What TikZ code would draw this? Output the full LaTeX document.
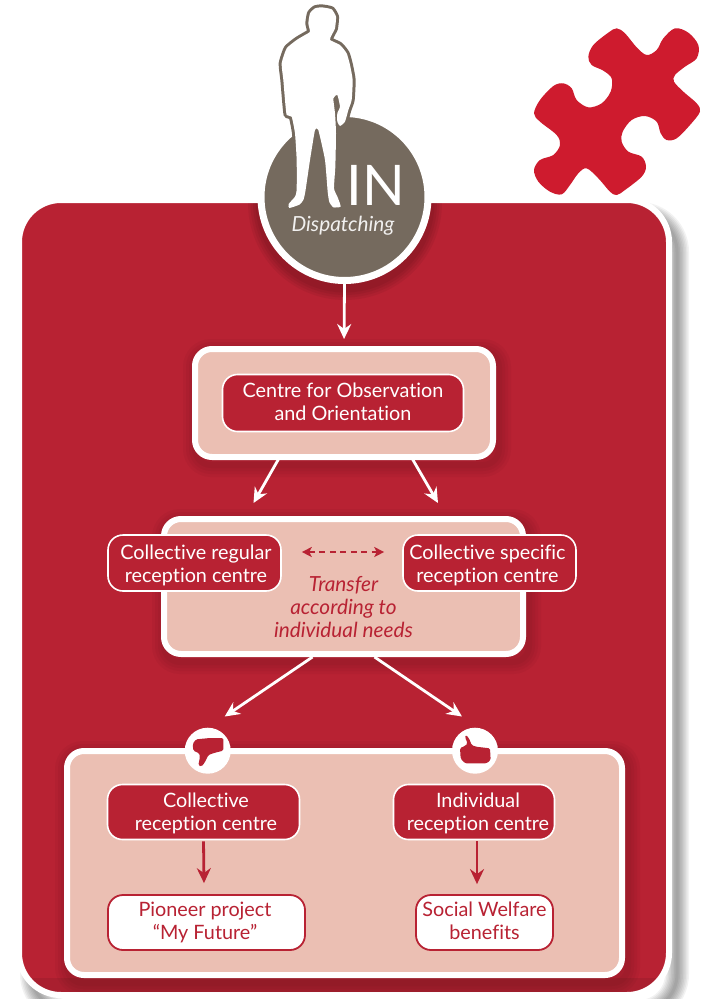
\documentclass[tikz,border=0pt]{standalone}
\usepackage{fontspec}
\setmainfont{Lato}[Ligatures=NoCommon]
\usetikzlibrary{arrows.meta,calc}
\definecolor{mainred}{HTML}{B82233}
\definecolor{pinkbg}{HTML}{EBBFB3}
\definecolor{brownc}{HTML}{756A5E}
\definecolor{puzzlered}{HTML}{CE1B2E}
\newcommand{\softpanel}[4]{%
  \foreach \w in {24,18,12,6}
    \draw[black,opacity=0.03,line width=\w pt,rounded corners=16pt] (#1+3,#2+5) rectangle (#3+3,#4+5);
}
% two text lines with fixed height above the first and depth below the last;
% the optional argument moves both lines sideways by half its value
\newcommand{\twolines}[4][0]{\hspace*{#1pt}\rule{0pt}{#2pt}#3\\\hspace*{#1pt}#4\rule[-3pt]{0pt}{3pt}}
\tikzset{
  panel/.style={draw=white,line width=6pt,fill=pinkbg,rounded corners=17pt,inner sep=0pt},
  redbox/.style={draw=white,line width=1.6pt,fill=mainred,text=white,rounded corners=15pt,inner sep=0pt,align=center,font=\fontsize{19.8}{23}\selectfont},
  whitebox/.style={draw=mainred,line width=1.8pt,fill=white,text=mainred,rounded corners=15pt,inner sep=0pt,align=center,font=\fontsize{19.8}{23}\selectfont},
  whitearrow/.style={draw=white,line width=2.8pt,-{Stealth[length=15pt,width=14pt,inset=5pt]}},
  redarrow/.style={draw=mainred,line width=2.8pt,-{Stealth[length=15pt,width=14pt,inset=5pt]}},
  transferarrow/.style={draw=mainred,line width=1.7pt,dash pattern=on 6pt off 4.5pt,{Stealth[length=10pt,width=10pt,inset=2.5pt]}-{Stealth[length=10pt,width=10pt,inset=2.5pt]}},
  thumbdisc/.style={circle,fill=white,minimum size=46pt,inner sep=0pt},
}
\begin{document}
\begin{tikzpicture}[x=1pt,y=-1pt]
\useasboundingbox (0,0) rectangle (705,999);
\fill[white] (0,0) rectangle (705,999);
% main panel shadow
\foreach \w in {24,21,18,15,12,9,6,3}
  \draw[black,opacity=0.05,line width=\w pt,rounded corners=38pt] (32,214) rectangle (677,1012);
% main panel
\draw[white,line width=6pt,fill=mainred,rounded corners=42pt] (19,200) rectangle (669,995);
\begin{scope}
\clip[rounded corners=40pt] (22,203) rectangle (666,992);
\fill[black,opacity=0.08] (22,978) rectangle (666,992);
\softpanel{64}{748}{625}{978}
\softpanel{192}{346}{496}{460}
\softpanel{161}{516}{526}{657}
\foreach \w in {20,15,10,5}
  \fill[black,opacity=0.05] (345,203) circle (87pt+\w pt*0.5);
\end{scope}
% puzzle piece
\begin{scope}[shift={(520pt,-10pt)},x=0.33333pt,y=-0.33333pt]
\fill[puzzlered] plot[smooth cycle,tension=0.55] coordinates {(290,55)(315,70)(350,112)(380,135)(410,120)(430,85)(465,55)(505,68)(535,105)(530,145)(495,170)(465,195)(462,215)(490,245)(530,280)(540,305)(510,345)(470,385)(440,390)(422,370)(410,335)(375,318)(335,330)(308,365)(305,395)(325,425)(365,440)(378,470)(365,500)(315,540)(290,555)(270,545)(235,505)(200,475)(175,490)(150,525)(125,553)(90,545)(55,515)(42,480)(60,450)(100,435)(120,405)(110,375)(60,335)(42,310)(60,270)(100,228)(130,220)(155,235)(170,270)(205,292)(245,280)(272,245)(275,205)(250,182)(215,165)(205,140)(220,105)(265,68)};
\end{scope}
% dispatch circle
\node[circle,fill=brownc,draw=white,line width=7pt,minimum size=167pt,inner sep=0pt] (disp) at (344.5,197) {};
% man
\begin{scope}[shift={(250pt,0pt)},x=0.33333pt,y=-0.33333pt]
\draw[brownc,line width=6pt,line join=round,postaction={fill=white}] plot[smooth cycle,tension=0.3] coordinates {(215,22)(245,28)(258,50)(255,85)(245,105)(240,120)(270,135)(290,160)(300,195)(308,240)(305,300)(295,330)(285,365)(270,378)(262,365)(262,340)(270,320)(262,285)(250,295)(255,340)(258,400)(256,500)(252,565)(263,592)(272,620)(250,622)(238,606)(233,575)(225,480)(205,390)(195,390)(180,480)(166,575)(160,600)(148,614)(118,624)(116,612)(135,590)(140,570)(140,480)(135,400)(125,350)(110,345)(105,300)(100,240)(95,190)(110,145)(140,120)(165,105)(180,95)(175,70)(180,40)(195,25)};
\end{scope}
\node[text=white,font=\fontsize{56}{56}\selectfont,inner sep=0pt] (intext) at (376,185) {IN};
\node[text=white!90!brownc,font=\fontsize{20.8}{24}\selectfont\itshape,inner sep=0pt] (dispt) at (343,225.5) {Dispatching};
% panels
\node[panel,minimum width=298pt,minimum height=108pt] (obspanel) at (344,403) {};
\node[redbox,minimum width=241pt,minimum height=57pt] (obs) at (343,403) {\twolines{15}{Centre for Observation}{and Orientation}};
\node[panel,minimum width=359pt,minimum height=135pt] (transpanel) at (343.5,586.5) {};
\node[redbox,minimum width=173pt,minimum height=56pt] (regular) at (194.5,563) {\twolines[3]{19.8}{Collective regular}{reception centre}};
\node[redbox,minimum width=173pt,minimum height=56pt] (specific) at (489.5,563) {\twolines[-4]{19.8}{Collective specific}{reception centre}};
\node[text=mainred,font=\fontsize{20.8}{23}\selectfont\itshape,align=center,inner sep=0pt] (transfer) at (343.5,607) {Transfer\\according to\\individual needs};
\node[panel,minimum width=555pt,minimum height=224pt] (endpanel) at (344.5,863) {};
\node[thumbdisc] (down) at (207.7,750.7) {};
\node[thumbdisc] (up) at (475,750.7) {};
\begin{scope}[shift={(190pt,-730pt)},x=0.33333pt,y=-0.33333pt]
\fill[mainred,rounded corners=1.5pt] (18,28)--(60,24)--(100,24)--(100,62)--(75,68)--(55,75)--(44,98)--(34,110)--(25,106)--(30,80)--(28,70)--(10,62)--(8,42)--cycle;
\end{scope}
\begin{scope}[shift={(455pt,-730pt)},x=0.33333pt,y=-0.33333pt]
\fill[mainred,rounded corners=1.5pt] (32,14)--(42,25)--(50,45)--(62,50)--(105,55)--(107,90)--(95,100)--(30,100)--(17,86)--(15,54)--(30,48)--(38,40)--(30,22)--cycle;
\end{scope}
\node[redbox,minimum width=192pt,minimum height=55pt] (coll) at (203.5,812) {\twolines[5]{16.8}{Collective}{reception centre}};
\node[redbox,minimum width=161pt,minimum height=55pt] (indiv) at (474,812) {\twolines[8]{16.8}{Individual}{reception centre}};
\node[whitebox,minimum width=197pt,minimum height=55pt] (pioneer) at (206.5,922.5) {\twolines[-3]{13.8}{Pioneer project}{“My Future”}};
\node[whitebox,minimum width=137pt,minimum height=55pt] (social) at (484.5,922.5) {\twolines{13.8}{Social Welfare}{benefits}};
% connectors
\draw[whitearrow,shorten >=7pt,shorten <=-3pt] (disp.south) -- ([xshift=0pt]obspanel.north);
\draw[whitearrow,shorten <=-2pt] ([xshift=-66pt]obspanel.south) -- ($(transpanel.north)+(-90pt,13pt)$);
\draw[whitearrow,shorten <=-2pt] ([xshift=69pt]obspanel.south) -- ($(transpanel.north)+(94.5pt,13pt)$);
\draw[whitearrow] ([xshift=-31pt]transpanel.south) -- ($(down.north)+(17pt,11pt)$);
\draw[whitearrow] ([xshift=31pt]transpanel.south) -- ($(up.north)+(-13pt,11pt)$);
\draw[redarrow,shorten <=1pt] (coll.south) -- ($(pioneer.north)+(-2.5pt,11pt)$);
\draw[redarrow,shorten <=1pt] ([xshift=3pt]indiv.south) -- ($(social.north)+(-7.5pt,10pt)$);
\draw[transferarrow] ($(regular.east)+(20pt,11pt)$) -- ($(specific.west)+(-18pt,11pt)$);
\end{tikzpicture}
\end{document}
